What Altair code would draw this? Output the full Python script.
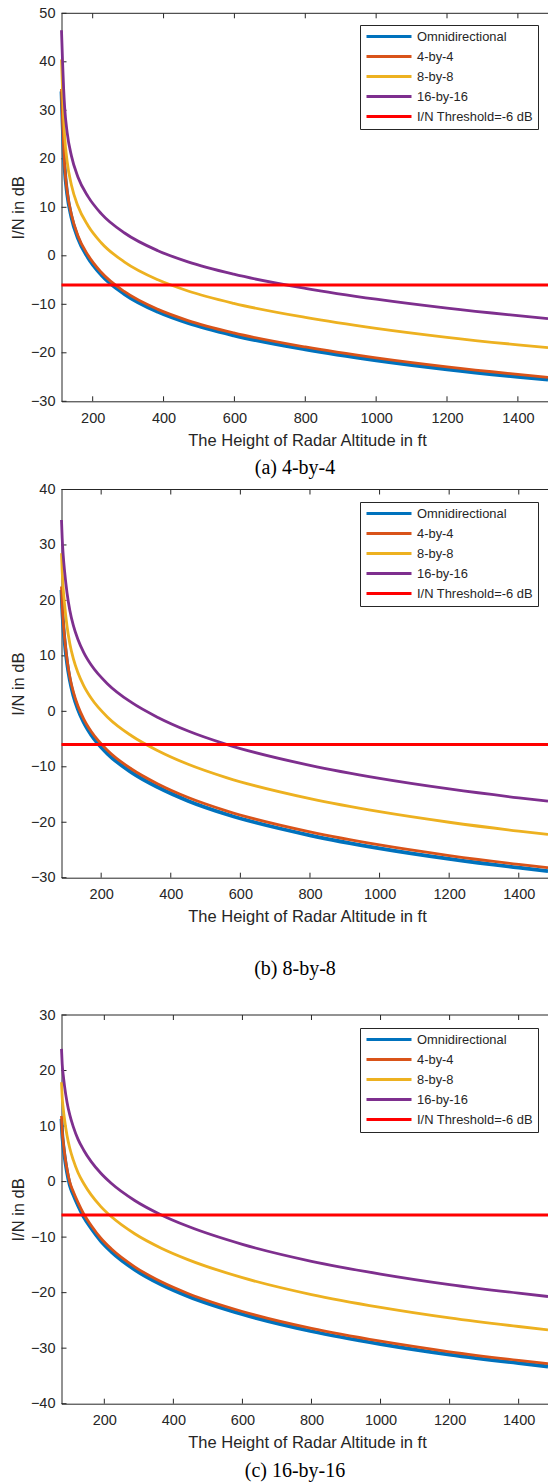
import altair as alt
import pandas as pd

SERIES = ["Omnidirectional", "4-by-4", "8-by-8", "16-by-16", "I/N Threshold=-6 dB"]
COLORS = ["#0072BD", "#D95319", "#EDB120", "#7E2F8E", "#FF0000"]
LINE_WIDTHS = [3.8, 2.8, 2.8, 2.8, 3.0]
X_TICKS = [200, 400, 600, 800, 1000, 1200, 1400]
X_TITLE = "The Height of Radar Altitude in ft"
Y_TITLE = "I/N in dB"

# ---------------- Panel (a) 4-by-4 ----------------
A_CAPTION = "(a) 4-by-4"
A_X_DOMAIN = [112, 1485]
A_Y_TICKS = [-30, -20, -10, 0, 10, 20, 30, 40, 50]
A_H = [112, 115, 118, 121, 128, 140, 158, 187, 224, 290, 384, 469, 598, 800, 1000, 1200, 1400, 1485]
A_OMNI_V = [33.9, 27.4, 21.9, 17.9, 12.8, 8.0, 3.7, -0.4, -3.9, -7.9, -11.55, -13.85, -16.4, -19.3, -21.55, -23.4, -24.95, -25.55]
A_4X4_V = [34.4, 27.9, 22.4, 18.4, 13.3, 8.5, 4.2, 0.1, -3.4, -7.4, -11.05, -13.35, -15.9, -18.8, -21.05, -22.9, -24.45, -25.05]
A_8X8_V = [40.5, 34.0, 28.5, 24.5, 19.4, 14.6, 10.3, 6.2, 2.7, -1.3, -4.95, -7.25, -9.8, -12.7, -14.95, -16.8, -18.35, -18.95]
A_16X16_V = [46.5, 40.0, 34.5, 30.5, 25.4, 20.6, 16.3, 12.2, 8.7, 4.7, 1.05, -1.25, -3.8, -6.7, -8.95, -10.8, -12.35, -12.95]
A_THR_H = [112, 1485]
A_THR_V = [-6, -6]

# ---------------- Panel (b) 8-by-8 ----------------
B_CAPTION = "(b) 8-by-8"
B_X_DOMAIN = [86, 1484]
B_Y_TICKS = [-30, -20, -10, 0, 10, 20, 30, 40]
B_H = [86, 88, 91, 95, 102, 110, 120, 133, 150, 172, 220, 287, 363, 450, 562, 800, 1000, 1200, 1400, 1484]
B_OMNI_V = [21.9, 18.6, 15.5, 12.6, 8.7, 5.6, 2.9, 0.4, -2.0, -4.3, -7.75, -11.0, -13.7, -16.15, -18.6, -22.35, -24.7, -26.6, -28.2, -28.8]
B_4X4_V = [22.5, 19.2, 16.1, 13.2, 9.3, 6.2, 3.5, 1.0, -1.4, -3.7, -7.15, -10.4, -13.1, -15.55, -18.0, -21.75, -24.1, -26.0, -27.6, -28.2]
B_8X8_V = [28.5, 25.2, 22.1, 19.2, 15.3, 12.2, 9.5, 7.0, 4.6, 2.3, -1.15, -4.4, -7.1, -9.55, -12.0, -15.75, -18.1, -20.0, -21.6, -22.2]
B_16X16_V = [34.5, 31.2, 28.1, 25.2, 21.3, 18.2, 15.5, 13.0, 10.6, 8.3, 4.85, 1.6, -1.1, -3.55, -6.0, -9.75, -12.1, -14.0, -15.6, -16.2]
B_THR_H = [86, 1484]
B_THR_V = [-6, -6]

# ---------------- Panel (c) 16-by-16 ----------------
C_CAPTION = "(c) 16-by-16"
C_X_DOMAIN = [76, 1485]
C_Y_TICKS = [-40, -30, -20, -10, 0, 10, 20, 30]
C_H = [76, 78, 81, 85, 92, 100, 110, 124, 140, 162, 190, 220, 288, 365, 442, 600, 800, 1000, 1200, 1400, 1485]
C_OMNI_V = [11.3, 8.6, 6.6, 4.5, 1.7, -0.6, -2.3, -4.3, -6.3, -8.4, -10.7, -12.6, -15.85, -18.55, -20.65, -23.9, -26.95, -29.25, -31.15, -32.7, -33.3]
C_4X4_V = [11.8, 9.1, 7.1, 5.0, 2.2, -0.1, -1.8, -3.8, -5.8, -7.9, -10.2, -12.1, -15.35, -18.05, -20.15, -23.4, -26.45, -28.75, -30.65, -32.2, -32.8]
C_8X8_V = [17.9, 15.2, 13.2, 11.1, 8.3, 6.0, 3.9, 1.6, -0.3, -2.4, -4.5, -6.3, -9.4, -12.0, -14.05, -17.3, -20.35, -22.65, -24.55, -26.1, -26.7]
C_16X16_V = [23.9, 21.2, 19.2, 17.1, 14.3, 12.0, 9.9, 7.6, 5.7, 3.6, 1.5, -0.3, -3.4, -6.0, -8.05, -11.3, -14.35, -16.65, -18.55, -20.1, -20.7]
C_THR_H = [76, 1485]
C_THR_V = [-6, -6]

# ---------------- page geometry (pixels) ----------------
PAGE_W, PAGE_H = 548, 1482
PLOT_L, PLOT_R = 61.5, 548
AX = "#262626"
TICK_LEN = 5


def panel(curves, xdom, yticks, caption, top, bottom, legend_y, caption_y):
    xs = alt.Scale(domain=xdom, range=[PLOT_L, PLOT_R], nice=False, zero=False)
    ys = alt.Scale(domain=[yticks[0], yticks[-1]], range=[bottom, top], nice=False, zero=False)
    xaxis = alt.Axis(orient="bottom", offset=bottom - PAGE_H, values=X_TICKS, format="d",
                     title=X_TITLE, grid=False, ticks=False, tickSize=0,
                     domainColor=AX, domainWidth=1, labelFont="Liberation Sans",
                     labelFontSize=14.5, labelColor=AX, labelPadding=17, labelBaseline="middle",
                     labelFlush=False, labelOverlap=False, titleFont="Liberation Sans",
                     titleFontSize=16.5, titleFontWeight="normal", titleColor=AX,
                     titleX=307, titleY=39, titleBaseline="middle", titleAlign="center")
    yaxis = alt.Axis(orient="left", offset=-PLOT_L, values=yticks, title=Y_TITLE, grid=False,
                     ticks=False, tickSize=0, domainColor=AX, domainWidth=1,
                     labelFont="Liberation Sans", labelFontSize=14.5, labelColor=AX,
                     labelPadding=6.5, labelFlush=False, labelOverlap=False,
                     titleFont="Liberation Sans", titleFontSize=16.5, titleFontWeight="normal",
                     titleColor=AX, titleX=-43.5, titleAngle=270, titleBaseline="middle",
                     titleAlign="center")
    legend = alt.Legend(title=None, orient="none", legendX=360, legendY=legend_y,
                        symbolType="stroke", symbolSize=2025, symbolStrokeWidth=3,
                        labelFont="Liberation Sans", labelFontSize=12.9, labelColor=AX,
                        labelOffset=4, padding=5, rowPadding=6, clipHeight=13,
                        strokeColor=AX, fillColor="white", labelLimit=220, symbolOffset=0)
    cscale = alt.Scale(domain=SERIES, range=COLORS)

    line_layers = []
    for name, (hs, vs), sw in zip(SERIES, curves, LINE_WIDTHS):
        df = pd.DataFrame({"h": hs, "v": vs, "series": [name] * len(hs)})
        line_layers.append(
            alt.Chart(df).mark_line(strokeWidth=sw, interpolate="monotone").encode(
                x=alt.X("h:Q", scale=xs, axis=xaxis),
                y=alt.Y("v:Q", scale=ys, axis=yaxis),
                color=alt.Color("series:N", scale=cscale, legend=legend),
            )
        )

    xt = pd.DataFrame({"h": X_TICKS})
    yt = pd.DataFrame({"v": yticks})
    dummy = pd.DataFrame({"k": [0]})
    top_border = alt.Chart(dummy).mark_rule(color=AX, strokeWidth=1).encode(
        x=alt.value(PLOT_L), x2=alt.value(PLOT_R), y=alt.value(top))
    ticks_bottom = alt.Chart(xt).mark_rule(color=AX, strokeWidth=1).encode(
        x=alt.X("h:Q", scale=xs, axis=xaxis), y=alt.value(bottom), y2=alt.value(bottom - TICK_LEN))
    ticks_top = alt.Chart(xt).mark_rule(color=AX, strokeWidth=1).encode(
        x=alt.X("h:Q", scale=xs, axis=xaxis), y=alt.value(top), y2=alt.value(top + TICK_LEN))
    ticks_left = alt.Chart(yt).mark_rule(color=AX, strokeWidth=1).encode(
        y=alt.Y("v:Q", scale=ys, axis=yaxis), x=alt.value(PLOT_L), x2=alt.value(PLOT_L + TICK_LEN))
    cap = alt.Chart(pd.DataFrame({"t": [caption]})).mark_text(
        font="Liberation Serif", fontSize=20, color="black", align="center", baseline="middle"
    ).encode(text="t:N", x=alt.value(295), y=alt.value(caption_y))

    return alt.layer(ticks_left, ticks_bottom, ticks_top, top_border, *line_layers, cap)


pa = panel([(A_H, A_OMNI_V), (A_H, A_4X4_V), (A_H, A_8X8_V), (A_H, A_16X16_V), (A_THR_H, A_THR_V)],
           A_X_DOMAIN, A_Y_TICKS, A_CAPTION, top=13.3, bottom=401.3, legend_y=25, caption_y=467.5)
pb = panel([(B_H, B_OMNI_V), (B_H, B_4X4_V), (B_H, B_8X8_V), (B_H, B_16X16_V), (B_THR_H, B_THR_V)],
           B_X_DOMAIN, B_Y_TICKS, B_CAPTION, top=489.5, bottom=877.7, legend_y=502, caption_y=969)
pc = panel([(C_H, C_OMNI_V), (C_H, C_4X4_V), (C_H, C_8X8_V), (C_H, C_16X16_V), (C_THR_H, C_THR_V)],
           C_X_DOMAIN, C_Y_TICKS, C_CAPTION, top=1015, bottom=1403.7, legend_y=1028, caption_y=1471)

chart = (
    alt.layer(pa, pb, pc)
    .resolve_scale(x="independent", y="independent", color="independent")
    .resolve_axis(x="independent", y="independent")
    .resolve_legend(color="independent")
    .properties(width=PAGE_W, height=PAGE_H, padding=0,
                autosize=alt.AutoSizeParams(type="none"), background="white")
    .configure_view(strokeWidth=0)
)

chart.save("out.html", embed_options={"renderer": "svg", "actions": False})
